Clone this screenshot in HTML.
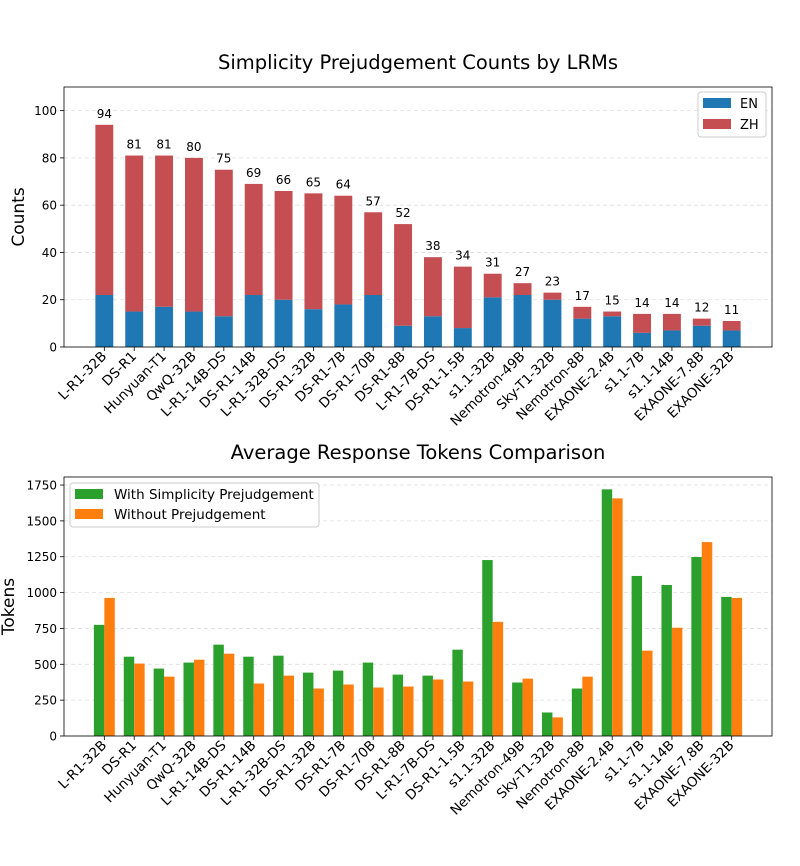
<!DOCTYPE html>
<html><head><meta charset="utf-8"><style>
body{margin:0;background:#fff;}
svg{display:block;font-family:"DejaVu Sans","Liberation Sans",sans-serif;}
</style></head><body>
<svg id="c" width="800" height="866"></svg>
<script>
const categories=["L-R1-32B","DS-R1","Hunyuan-T1","QwQ-32B","L-R1-14B-DS","DS-R1-14B","L-R1-32B-DS","DS-R1-32B","DS-R1-7B","DS-R1-70B","DS-R1-8B","L-R1-7B-DS","DS-R1-1.5B","s1.1-32B","Nemotron-49B","Sky-T1-32B","Nemotron-8B","EXAONE-2.4B","s1.1-7B","s1.1-14B","EXAONE-7.8B","EXAONE-32B"];
const totalCounts=[94,81,81,80,75,69,66,65,64,57,52,38,34,31,27,23,17,15,14,14,12,11];
const enCounts=[22,15,17,15,13,22,20,16,18,22,9,13,8,21,22,20,12,13,6,7,9,7];
const withTokens=[775,553,470,512,637,553,560,442,456,512,428,421,602,1227,373,164,331,1720,1116,1053,1248,970];
const withoutTokens=[963,505,414,532,574,366,421,331,359,338,345,394,380,796,400,130,414,1657,595,755,1352,963];
const countTicks=[0,20,40,60,80,100];
const tokenTicks=[0,250,500,750,1000,1250,1500,1750];

const svg=document.getElementById('c');
const NS='http://www.w3.org/2000/svg';
function el(tag,attrs,parent){const e=document.createElementNS(NS,tag);for(const k in attrs)e.setAttribute(k,attrs[k]);(parent||svg).appendChild(e);return e;}
const L=64,R=772;
const xmin=-1.35,xmax=22.35;
function xs(i){return L+(i-xmin)/(xmax-xmin)*(R-L);}
const unit=(R-L)/(xmax-xmin);

function axes(top,bot,ymax,ticks,title,ylabel,titleY,ylx,prefix){
  const ys=v=>bot-v/ymax*(bot-top);
  const g=el('g',{});
  
  
  ticks.forEach(t=>{
    const y=ys(t);
    const gl=el('line',{x1:L,x2:R,y1:y,y2:y,stroke:'#ddd','stroke-dasharray':'4,3','stroke-width':0.8},g);
    
    
    el('line',{x1:L-4,x2:L,y1:y,y2:y,stroke:'#000','stroke-width':0.8},g);
    const tx=el('text',{x:L-7,y:y+4.5,'text-anchor':'end','font-size':12,fill:'#000'},g);
    tx.textContent=t;
    
    
  });
  categories.forEach((c,i)=>{
    const x=xs(i);
    el('line',{x1:x,x2:x,y1:bot,y2:bot+4,stroke:'#000','stroke-width':0.8},g);
    const ax=x+3, ay=bot+10;
    const tx=el('text',{x:ax,y:ay,'text-anchor':'end','font-size':13.5,transform:`rotate(-45 ${ax} ${ay})`},g);
    tx.textContent=c;
    
    
  });
  const t=el('text',{x:(L+R)/2,y:titleY,'text-anchor':'middle','font-size':19.5},g);
  t.textContent=title;
  
  
  const yl=el('text',{x:ylx,y:(top+bot)/2,'text-anchor':'middle','font-size':17,transform:`rotate(-90 ${ylx} ${(top+bot)/2})`},g);
  yl.textContent=ylabel;
  
  
  return ys;
}

// Top chart
const t1=87,b1=347;
const ys1=axes(t1,b1,110,countTicks,'Simplicity Prejudgement Counts by LRMs','Counts',69,24,'counts');
const bw=0.6*unit;
categories.forEach((c,i)=>{
  const x=xs(i)-bw/2;
  const en=el('rect',{x:x,y:ys1(enCounts[i]),width:bw,height:b1-ys1(enCounts[i]),fill:'#1f77b4'});
  
  
  const zh=el('rect',{x:x,y:ys1(totalCounts[i]),width:bw,height:ys1(enCounts[i])-ys1(totalCounts[i]),fill:'#c44e52'});
  
  
  const lb=el('text',{x:xs(i),y:ys1(totalCounts[i])-7,'text-anchor':'middle','font-size':12});
  lb.textContent=totalCounts[i];
  
  
});
el('rect',{x:L,y:t1,width:R-L,height:b1-t1,fill:'none',stroke:'#000','stroke-width':0.8});
const lg1=el('g',{});


el('rect',{x:698,y:92,width:68,height:45,rx:3,fill:'#fff',stroke:'#ccc'},lg1);
el('rect',{x:703,y:98,width:28,height:10,fill:'#1f77b4'},lg1);
el('rect',{x:703,y:119,width:28,height:10,fill:'#c44e52'},lg1);
let tt=el('text',{x:740,y:108,'font-size':13},lg1);tt.textContent='EN';
tt=el('text',{x:740,y:129,'font-size':13},lg1);tt.textContent='ZH';

// Bottom chart
const t2=477,b2=736;
const ys2=axes(t2,b2,1806,tokenTicks,'Average Response Tokens Comparison','Tokens',459,14,'tokens');
const bw2=0.35*unit;
categories.forEach((c,i)=>{
  const g1=el('rect',{x:xs(i)-bw2,y:ys2(withTokens[i]),width:bw2,height:b2-ys2(withTokens[i]),fill:'#2ca02c'});
  
  
  const o1=el('rect',{x:xs(i),y:ys2(withoutTokens[i]),width:bw2,height:b2-ys2(withoutTokens[i]),fill:'#ff7f0e'});
  
  
});
el('rect',{x:L,y:t2,width:R-L,height:b2-t2,fill:'none',stroke:'#000','stroke-width':0.8});
const lg2=el('g',{});


el('rect',{x:70,y:483,width:249,height:44,rx:3,fill:'#fff',stroke:'#ccc'},lg2);
el('rect',{x:75,y:489,width:28,height:10,fill:'#2ca02c'},lg2);
el('rect',{x:75,y:509,width:28,height:10,fill:'#ff7f0e'},lg2);
tt=el('text',{x:114,y:499,'font-size':13.5},lg2);tt.textContent='With Simplicity Prejudgement';
tt=el('text',{x:114,y:519,'font-size':13.5},lg2);tt.textContent='Without Prejudgement';
</script>
</body></html>
